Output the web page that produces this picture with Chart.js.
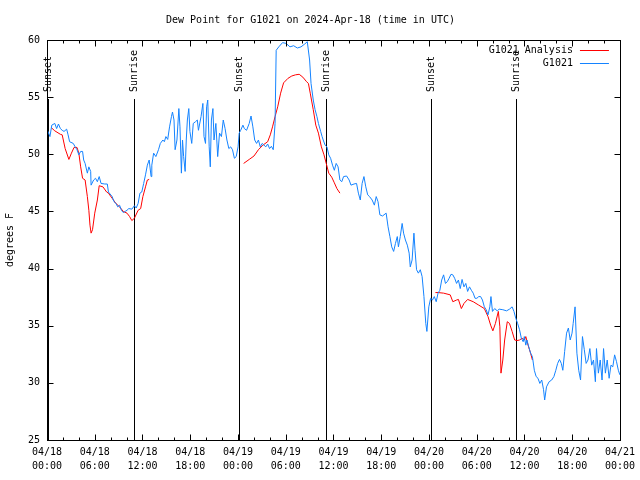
<!DOCTYPE html>
<html><head><meta charset="utf-8">
<script src="https://cdn.jsdelivr.net/npm/chart.js@4/dist/chart.umd.min.js"></script>
<style>html,body{margin:0;padding:0;background:#fff}</style>
</head><body>
<canvas id="c" width="640" height="480"></canvas>
<script>
const chartTitle = 'Dew Point for G1021 on 2024-Apr-18 (time in UTC)';
const yAxisTitle = 'degrees F';
const xTickLabels = ['04/18 00:00','04/18 06:00','04/18 12:00','04/18 18:00','04/19 00:00','04/19 06:00','04/19 12:00','04/19 18:00','04/20 00:00','04/20 06:00','04/20 12:00','04/20 18:00','04/21 00:00'];
const seriesNames = ['G1021 Analysis', 'G1021'];
const seriesColors = ['#ff0000', '#1483ff'];

// Sunrise / sunset markers (hours since 04/18 00:00 UTC)
const sunEventHours = [0.15, 10.9, 24.15, 35.0, 48.3, 59.0];
const sunEventLabels = ['Sunset','Sunrise','Sunset','Sunrise','Sunset','Sunrise'];

// G1021 observations: hours since 04/18 00:00 UTC, dew point (F)
const obsHours = [
0.0,0.37,0.6,0.98,1.21,1.44,1.68,1.91,2.14,2.47,
2.65,2.84,3.3,3.54,3.77,4.0,4.23,4.47,4.61,4.79,
5.07,5.26,5.49,5.54,5.86,6.1,6.33,6.56,6.79,7.26,
7.58,7.72,8.19,8.42,8.66,8.89,9.12,9.35,9.59,9.82,
10.05,10.28,10.66,10.98,11.21,11.45,11.68,11.91,12.15,12.38,
12.61,12.84,13.08,13.17,13.4,13.68,14.01,14.24,14.56,14.75,
14.94,15.17,15.4,15.64,15.77,15.96,16.1,16.33,16.57,16.71,
16.89,17.03,17.17,17.36,17.5,17.64,17.82,17.96,18.19,18.38,
18.66,18.89,19.03,19.36,19.59,19.73,19.92,20.06,20.2,20.38,
20.52,20.66,20.85,20.99,21.22,21.45,21.68,21.92,22.15,22.38,
22.61,22.85,23.08,23.31,23.55,23.78,24.01,24.15,24.34,24.62,
24.8,25.08,25.41,25.64,25.87,26.1,26.34,26.57,26.8,27.04,
27.27,27.5,27.73,27.97,28.2,28.43,28.66,28.8,29.13,29.6,
30.06,30.53,30.99,31.46,31.92,32.39,32.71,33.0,33.18,33.46,
33.69,33.92,34.11,34.39,34.57,34.71,34.95,35.18,35.41,35.64,
35.88,36.11,36.34,36.58,36.81,37.04,37.27,37.65,37.97,38.2,
38.58,38.9,39.13,39.37,39.6,39.83,40.06,40.3,40.53,40.86,
41.14,41.37,41.6,41.83,42.16,42.62,42.86,43.09,43.32,43.56,
43.79,44.02,44.16,44.39,44.63,44.81,45.04,45.28,45.51,45.65,
45.88,46.11,46.25,46.44,46.67,46.91,47.14,47.37,47.6,47.74,
47.98,48.21,48.44,48.67,48.91,49.14,49.37,49.6,49.84,50.07,
50.3,50.53,50.77,51.0,51.23,51.47,51.7,51.93,52.16,52.4,
52.63,52.86,53.09,53.33,53.56,53.79,54.02,54.26,54.49,54.72,
54.96,55.19,55.42,55.65,55.79,55.98,56.26,56.58,56.82,57.28,
57.75,58.12,58.45,58.68,58.91,59.14,59.38,59.61,59.84,59.98,
60.17,60.31,60.54,60.77,61.0,61.24,61.47,61.7,61.93,62.17,
62.4,62.54,62.77,63.1,63.42,63.7,63.94,64.17,64.4,64.63,
64.82,65.05,65.29,65.52,65.75,65.98,66.12,66.36,66.59,66.82,
67.05,67.29,67.52,67.75,67.98,68.22,68.45,68.68,68.91,69.05,
69.29,69.52,69.75,69.94,70.17,70.4,70.64,70.87,71.1,71.33,
71.57,71.8,71.99];
const obsValues = [
52.2,51.55,52.55,52.7,52.25,52.65,52.25,52.1,52.0,52.2,
51.7,51.1,50.95,50.65,50.4,49.95,50.25,50.25,49.5,49.2,
48.35,48.9,48.5,47.3,47.75,47.9,47.6,48.05,47.45,47.4,
47.4,46.7,46.3,45.85,45.7,45.4,45.55,45.1,44.9,45.0,
45.1,45.25,45.2,45.5,45.3,45.7,46.6,46.7,47.45,48.2,
49.05,49.5,48.05,49.05,50.1,49.8,50.4,50.95,51.25,51.1,
51.55,51.3,52.4,53.3,53.7,53.0,50.4,51.25,54.0,52.4,
48.35,51.25,49.8,48.5,51.25,53.0,54.0,52.0,50.95,52.7,
52.85,53.0,52.1,53.3,54.45,51.55,50.95,54.15,54.75,50.65,
48.9,53.0,54.0,51.25,52.7,49.8,51.85,51.55,53.0,52.25,
51.25,50.5,50.65,50.4,49.65,49.8,50.65,51.85,52.1,52.55,
52.25,52.1,52.7,53.35,52.4,51.25,50.95,51.25,50.65,50.95,
50.8,50.65,50.9,50.5,50.7,50.4,52.7,59.1,59.4,59.77,
59.7,59.4,59.5,59.3,59.4,59.65,59.85,58.25,56.2,54.75,
53.9,53.3,52.7,52.0,51.55,51.25,50.8,50.65,49.95,49.65,
49.05,48.6,49.2,48.9,47.75,47.6,48.05,48.1,47.75,47.3,
47.4,47.45,46.6,46.0,47.45,48.05,47.15,46.45,46.3,46.0,
45.55,46.3,45.85,44.7,44.6,44.85,43.65,42.8,41.9,41.5,
42.2,42.8,41.9,42.8,43.95,43.1,42.5,42.05,41.35,40.15,
40.75,43.1,41.6,39.9,39.6,39.9,39.3,37.55,35.2,34.5,
36.65,37.4,37.25,37.55,37.1,37.85,38.1,39.0,39.45,38.7,
38.85,39.15,39.5,39.45,39.15,38.7,39.0,38.25,39.05,38.4,
38.7,38.0,38.4,38.1,37.85,37.4,37.4,37.55,37.55,37.25,
36.65,36.4,35.95,36.65,37.55,36.25,36.5,36.3,36.45,36.4,
36.3,36.45,36.65,36.25,35.65,35.2,34.65,33.9,33.6,34.05,
33.3,33.75,33.15,32.6,32.3,31.1,30.55,30.4,29.95,30.25,
29.4,28.5,29.65,30.1,30.25,30.55,31.1,31.7,32.05,31.7,
31.1,32.75,34.35,34.8,33.75,34.35,35.2,36.65,32.6,31.1,
30.25,34.05,32.9,31.7,32.0,33.0,31.55,32.0,30.1,33.0,
30.85,32.0,30.25,33.0,30.85,32.0,30.4,31.55,31.4,32.45,
31.85,31.1,30.7];

// G1021 Analysis: hours and dew point (null = gap between runs)
const analysisHours = [
0.51,0.98,1.68,1.91,2.28,2.75,3.07,3.4,3.77,4.0,4.23,4.47,4.79,5.07,5.26,5.4,5.54,5.72,6.0,6.33,
6.56,7.03,7.49,7.72,8.19,8.66,9.12,9.59,10.05,10.38,10.66,10.98,11.45,11.77,12.05,12.38,12.61,12.84,
18,
24.71,25.41,26.01,26.57,27.13,27.73,28.06,28.34,28.66,28.99,29.36,29.73,30.29,30.76,31.22,31.69,
32.15,32.62,32.85,33.08,33.46,33.78,34.11,34.48,34.81,35.09,35.41,35.78,36.11,36.43,36.81,
42,
48.81,49.14,49.84,50.67,51.0,51.47,51.7,52.07,52.4,52.86,53.56,54.26,54.96,55.42,55.75,56.03,
56.35,56.72,56.91,57.05,57.28,57.51,57.84,58.12,58.45,58.77,59.05,59.38,59.7,59.98,60.17,60.45,60.77,61.0];
const analysisValues = [
52.35,52.05,51.75,51.7,50.5,49.55,50.1,50.6,50.6,50.1,48.9,47.9,47.75,46.3,45.1,43.8,43.1,43.4,44.85,46.0,
47.25,47.15,46.7,46.6,46.15,45.7,45.4,45.0,44.85,44.55,44.2,44.4,45.1,45.25,46.3,47.15,47.75,47.8,
null,
49.2,49.55,49.85,50.4,50.8,51.1,51.7,52.4,53.3,54.15,55.35,56.25,56.65,56.85,56.95,57.0,
56.75,56.35,56.2,55.35,53.9,52.55,51.85,50.65,49.95,49.2,48.35,48.0,47.5,47.0,46.6,
null,
37.9,37.9,37.85,37.7,37.1,37.25,37.3,36.5,36.95,37.3,37.1,36.8,36.5,35.8,35.05,34.55,
35.2,36.25,34.9,30.85,32.0,33.75,35.35,35.2,34.5,33.75,33.7,33.75,33.9,33.75,34.05,33.3,32.6,32.0];

const FONT = '"DejaVu Sans Mono", "Liberation Mono", monospace';
const toPoints = (hs, vs) => hs.map((h, i) => ({x: h, y: vs[i]}));

const decor = {
  id: 'decor',
  beforeDatasetsDraw(chart) {
    const {ctx, chartArea: a, scales: {x}} = chart;
    ctx.save();
    ctx.strokeStyle = '#000'; ctx.fillStyle = '#000'; ctx.lineWidth = 1;
    ctx.font = '10px ' + FONT;
    sunEventHours.forEach((h, i) => {
      const px = Math.round(x.getPixelForValue(h)) + 0.5;
      ctx.beginPath(); ctx.moveTo(px, a.top + 59); ctx.lineTo(px, a.bottom); ctx.stroke();
      ctx.save();
      ctx.translate(px, a.top + 52);
      ctx.rotate(-Math.PI / 2);
      ctx.textAlign = 'left'; ctx.textBaseline = 'middle';
      ctx.fillText(sunEventLabels[i], 0, 0);
      ctx.restore();
    });
    ctx.restore();
  },
  afterDraw(chart) {
    const {ctx, chartArea: a, scales: {x, y}} = chart;
    ctx.save();
    ctx.strokeStyle = '#000'; ctx.lineWidth = 1;
    const L = Math.round(a.left) + 0.5, R = Math.round(a.right) + 0.5;
    const T = Math.round(a.top) + 0.5, B = Math.round(a.bottom) + 0.5;
    ctx.strokeRect(L, T, R - L, B - T);
    ctx.beginPath();
    for (let h = x.min; h <= x.max; h += 2) {
      const px = Math.round(x.getPixelForValue(h)) + 0.5;
      const len = (h % 6 === 0) ? 6 : 3;
      ctx.moveTo(px, B); ctx.lineTo(px, B - len);
      ctx.moveTo(px, T); ctx.lineTo(px, T + len);
    }
    for (let v = y.min; v <= y.max; v += 5) {
      const py = Math.round(y.getPixelForValue(v)) + 0.5;
      ctx.moveTo(L, py); ctx.lineTo(L + 6, py);
      ctx.moveTo(R, py); ctx.lineTo(R - 6, py);
    }
    ctx.stroke();
    // key
    ctx.font = '10px ' + FONT;
    ctx.fillStyle = '#000';
    ctx.textAlign = 'right'; ctx.textBaseline = 'middle';
    seriesNames.forEach((name, i) => {
      const ly = Math.round(a.top + 10 + i * 13) + 0.5;
      ctx.fillText(name, a.right - 47, ly);
      ctx.strokeStyle = seriesColors[i];
      ctx.beginPath(); ctx.moveTo(a.right - 40, ly); ctx.lineTo(a.right - 11, ly); ctx.stroke();
    });
    ctx.restore();
  }
};

new Chart(document.getElementById('c'), {
  type: 'line',
  data: {
    datasets: [
      {label: seriesNames[1], data: toPoints(obsHours, obsValues), borderColor: seriesColors[1],
       borderWidth: 1, pointRadius: 0, tension: 0, order: 0},
      {label: seriesNames[0], data: toPoints(analysisHours, analysisValues), borderColor: seriesColors[0],
       borderWidth: 1, pointRadius: 0, tension: 0, spanGaps: false, order: 1}
    ]
  },
  options: {
    responsive: false,
    animation: false,
    devicePixelRatio: 1,
    layout: {padding: {left: 0, right: 19, top: 0, bottom: 0}},
    plugins: {
      legend: {display: false},
      tooltip: {enabled: false},
      title: {display: true, text: chartTitle, color: '#000',
              font: {family: FONT, size: 10, weight: 'normal', lineHeight: 1.2},
              padding: {top: 14, bottom: 14}}
    },
    scales: {
      x: {
        type: 'linear', min: 0, max: 72,
        grid: {display: false, drawTicks: false}, border: {display: false},
        afterFit(s) { s.height = 40; },
        ticks: {stepSize: 6, autoSkip: false, maxRotation: 0, padding: 5, color: '#000',
                font: {family: FONT, size: 10, lineHeight: 1.4},
                callback: (v) => xTickLabels[Math.round(v / 6)].split(' ')}
      },
      y: {
        min: 25, max: 60,
        grid: {display: false, drawTicks: false}, border: {display: false},
        afterFit(s) { s.width = 47; },
        title: {display: true, text: yAxisTitle, color: '#000', font: {family: FONT, size: 10}},
        ticks: {stepSize: 5, padding: 7, color: '#000', font: {family: FONT, size: 10}}
      }
    }
  },
  plugins: [decor]
});
</script>
</body></html>
